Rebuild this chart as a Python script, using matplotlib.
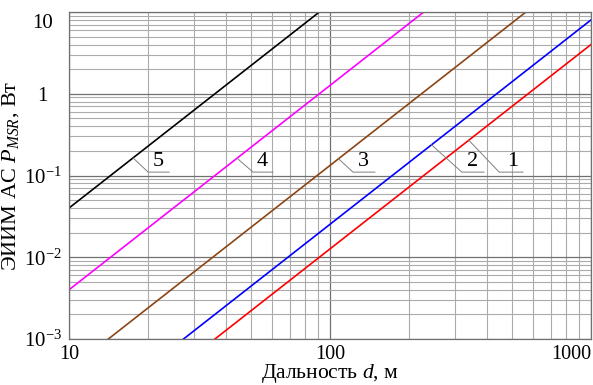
import numpy as np
import matplotlib.pyplot as plt
from matplotlib.ticker import LogLocator, NullFormatter
from matplotlib.transforms import ScaledTranslation

plt.rcParams['font.family'] = ['Liberation Serif', 'DejaVu Serif']
plt.rcParams['mathtext.fontset'] = 'custom'
plt.rcParams['mathtext.rm'] = 'Liberation Serif'
plt.rcParams['mathtext.it'] = 'Liberation Serif:italic'

# distance endpoints, m, and power at them, W (straight lines on log-log)
d = [10, 1000]
p1 = [4.0e-5, 4.0]
p2 = [8.0e-5, 8.0]
p3 = [4.2e-4, 42.0]
p4 = [4.0e-3, 400.0]
p5 = [4.0e-2, 4000.0]
curves = [p1, p2, p3, p4, p5]
colors = ['#ff0000', '#0000ff', '#8b4513', '#ff00ff', '#000000']
names = ['1', '2', '3', '4', '5']

# leader lines: start on curve, elbow, end of shelf, label x
lead_start = [(341, 0.268), (245, 0.237), (107.4, 0.162), (44.1, 0.162), (17.6, 0.164)]
lead_elbow = [445, 320, 122.5, 50.7, 20.1]
lead_end = [549, 389, 148.6, 60.5, 24.2]
lead_text = [502, 353, 134.9, 54.9, 21.9]
shelf_y = 0.11

yticks = [1e-3, 1e-2, 1e-1, 1, 10]
ylabels = ['$10^{-3}$', '$10^{-2}$', '$10^{-1}$', '1', '10']
xticks = [10, 100, 1000]
xlabels = ['10', '100', '1000']

fig = plt.figure(figsize=(5.93, 3.85), dpi=100)
ax = fig.add_axes([0.1164, 0.1195, 0.8802, 0.8493])

for p, c in zip(curves, colors):
    ax.plot(d, p, color=c, lw=1.2)

ax.set_xscale('log')
ax.set_yscale('log')
ax.set_xlim(10, 1000)
ax.set_ylim(1e-3, 10)

ax.set_xticks(xticks, xlabels)
ax.set_yticks(yticks, ylabels)
ax.xaxis.set_minor_locator(LogLocator(base=10, subs=np.arange(2, 10)))
ax.yaxis.set_minor_locator(LogLocator(base=10, subs=np.arange(2, 10)))
ax.xaxis.set_minor_formatter(NullFormatter())
ax.yaxis.set_minor_formatter(NullFormatter())
ax.tick_params(which='both', length=0, labelsize=15)
ax.tick_params(axis='x', pad=4, labelsize=14.5)
ax.tick_params(axis='y', pad=19)
for lab in ax.get_yticklabels():
    lab.set_ha('center')

ax.grid(which='major', color='#707070', lw=0.9)
ax.grid(which='minor', color='#ababab', lw=0.8)
for s in ax.spines.values():
    s.set_color('#707070')
    s.set_linewidth(0.9)

# keep the end labels inside the figure
ax.get_yticklabels()[-1].set_transform(
    ax.get_yticklabels()[-1].get_transform()
    + ScaledTranslation(0, -0.09, fig.dpi_scale_trans))
ax.get_xticklabels()[-1].set_transform(
    ax.get_xticklabels()[-1].get_transform()
    + ScaledTranslation(-0.20, 0, fig.dpi_scale_trans))

for i in range(5):
    x0, y0 = lead_start[i]
    ax.plot([x0, lead_elbow[i], lead_end[i]], [y0, shelf_y, shelf_y],
            color='#808080', lw=0.7)
    ax.text(lead_text[i], shelf_y * 1.03, names[i], fontsize=16,
            ha='center', va='bottom')

ax.set_xlabel('Дальность $d$, м', fontsize=15.5, labelpad=-1)
ax.set_ylabel('ЭИИМ АС $P_{MSR}$, Вт', fontsize=16, labelpad=2)

fig.savefig('out.png', dpi=100)
